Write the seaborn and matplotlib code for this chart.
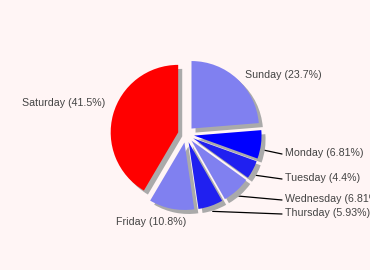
import matplotlib
matplotlib.use("Agg")
import matplotlib.pyplot as plt
import seaborn as sns
import numpy as np

days = ["Sunday", "Monday", "Tuesday", "Wednesday", "Thursday", "Friday", "Saturday"]
shares = [23.7, 6.81, 4.4, 6.81, 5.93, 10.8, 41.5]
colors = ["#8080f0", "#0000ff", "#2020f0", "#8080f0", "#2020f0", "#8080f0", "#ff0000"]
labels = [f"{d} ({s:g}%)" for d, s in zip(days, shares)]

sns.set_theme(style="white")
plt.rcParams['font.family'] = ['Liberation Sans', 'DejaVu Sans']

bg = "#fff5f5"
W, H = 370, 270
fig = plt.figure(figsize=(W / 100, H / 100), dpi=100, facecolor=bg)
ax = fig.add_axes([0, 0, 1, 1])
ax.set_facecolor(bg)

R = 67.5
cx, cy = 186.0, 134.5
explode = 0.12

wedges, _ = ax.pie(
    shares, colors=colors, startangle=90, counterclock=False,
    explode=[explode] * len(shares), radius=1.0,
    shadow={'ox': 0.043, 'oy': -0.043, 'facecolor': '#aaaaaa',
            'edgecolor': 'none', 'alpha': 1},
    wedgeprops={'linewidth': 0}, frame=False)

ax.set_xlim(-cx / R, (W - cx) / R)
ax.set_ylim(-(H - cy) / R, cy / R)
ax.set_aspect('equal')
ax.axis('off')


def px(x, y):
    return (x - cx) / R, (cy - y) / R


txt_kw = dict(fontsize=7.65, color="#444444", va="center")

# label placements (pixels): (x, y, ha, has_link)
place = {
    "Sunday": (245, 75, "left", False),
    "Monday": (285, 153, "left", True),
    "Tuesday": (285, 178, "left", True),
    "Wednesday": (285, 199, "left", True),
    "Thursday": (285, 213, "left", True),
    "Friday": (151, 222, "center", False),
    "Saturday": (105, 103, "right", False),
}

for w, d, lab in zip(wedges, days, labels):
    x, y, ha, link = place[d]
    tx, ty = px(x, y)
    ax.text(tx, ty, lab, ha=ha, **txt_kw)
    if link:
        mid = np.deg2rad((w.theta1 + w.theta2) / 2)
        r = 1.0 + explode
        ax_, ay_ = r * np.cos(mid) + 0.03, r * np.sin(mid) - 0.08
        ex, ey = px(282, y + 1)
        ax.plot([ax_, ex], [ay_, ey], color="black", lw=0.9, zorder=0.5)

fig.savefig("out.png", dpi=100, facecolor=bg)
